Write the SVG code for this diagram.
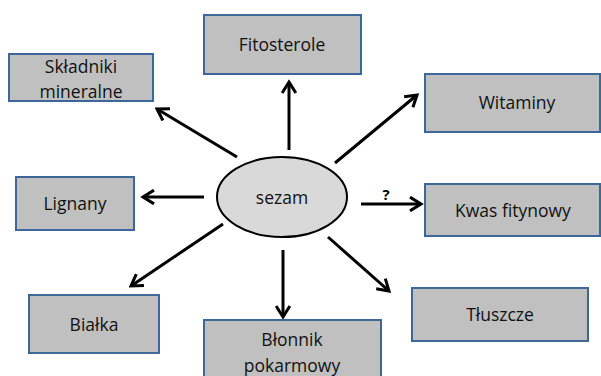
<svg xmlns="http://www.w3.org/2000/svg" width="601" height="376" viewBox="0 0 601 376">
<style>
.box{fill:#c0c0c0;stroke:#3f6699;stroke-width:2}
.t{font-family:"Open Sans","Liberation Sans",sans-serif;font-size:17.5px;fill:#111;text-anchor:middle}
.c{stroke:#000;stroke-width:3;fill:none;marker-end:url(#ah)}
</style>
<defs>
<marker id="ah" viewBox="0 0 12 12" refX="10" refY="6" markerWidth="5.5" markerHeight="5.5" markerUnits="strokeWidth" orient="auto">
<path d="M2,1 L10,6 L2,11" fill="none" stroke="#000" stroke-width="2.2"/>
</marker>
</defs>
<rect width="601" height="376" fill="#fff"/>
<g id="connectors">
<line class="c" x1="237" y1="157" x2="157" y2="109"/>
<line class="c" x1="289" y1="150" x2="289" y2="82"/>
<line class="c" x1="335" y1="163" x2="417" y2="95"/>
<line class="c" x1="361" y1="204" x2="421" y2="204"/>
<line class="c" x1="204" y1="197" x2="143" y2="197"/>
<line class="c" x1="223" y1="224" x2="131" y2="286"/>
<line class="c" x1="283" y1="250" x2="283" y2="317"/>
<line class="c" x1="328" y1="237" x2="389" y2="291"/>
<text x="386" y="200" style="font-family:'Open Sans','Liberation Sans',sans-serif;font-size:15px;font-weight:bold;text-anchor:middle">?</text>
</g>
<g id="sezam">
<ellipse cx="282" cy="197" rx="65" ry="40" fill="#d9d9d9" stroke="#000" stroke-width="2"/>
<text class="t" x="282" y="204">sezam</text>
</g>
<g id="skladniki">
<rect class="box" x="9" y="54" width="144" height="47"/>
<text class="t" x="81" y="73">Składniki</text>
<text class="t" x="81" y="98">mineralne</text>
</g>
<g id="fitosterole">
<rect class="box" x="204" y="15" width="157" height="59"/>
<text class="t" x="282" y="51">Fitosterole</text>
</g>
<g id="witaminy">
<rect class="box" x="425" y="74" width="175" height="58"/>
<text class="t" x="517" y="109">Witaminy</text>
</g>
<g id="kwas">
<rect class="box" x="425" y="184" width="175" height="52"/>
<text class="t" x="513" y="217">Kwas fitynowy</text>
</g>
<g id="lignany">
<rect class="box" x="16" y="177" width="118" height="53"/>
<text class="t" x="75" y="210">Lignany</text>
</g>
<g id="bialka">
<rect class="box" x="29" y="295" width="130" height="58"/>
<text class="t" x="94" y="331">Białka</text>
</g>
<g id="blonnik">
<rect class="box" x="204" y="320" width="177" height="60"/>
<text class="t" x="292" y="346">Błonnik</text>
<text class="t" x="292" y="372">pokarmowy</text>
</g>
<g id="tluszcze">
<rect class="box" x="412" y="288" width="176" height="53"/>
<text class="t" x="500" y="321">Tłuszcze</text>
</g>
</svg>
